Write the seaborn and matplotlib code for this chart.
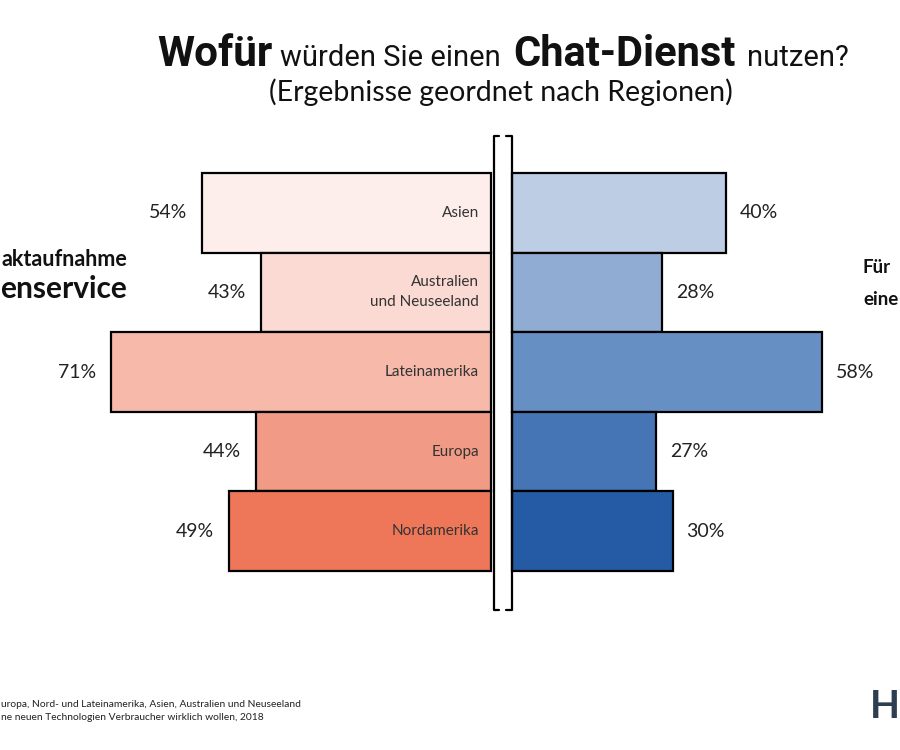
import pandas as pd
import matplotlib.pyplot as plt
from matplotlib.lines import Line2D
import seaborn as sns

# =========================
# Daten
# =========================
regionen = ["Asien", "Australien\nund Neuseeland", "Lateinamerika", "Europa", "Nordamerika"]
kontakt = [54, 43, 71, 44, 49]      # Kontaktaufnahme mit dem Kundenservice
kauf = [40, 28, 58, 27, 30]         # rechte Seite
farben_links = ["#fdeeeb", "#fadad3", "#f6b9aa", "#f19a85", "#ee775a"]
farben_rechts = ["#bccde4", "#91acd3", "#668fc4", "#4575b5", "#255ba4"]

df = pd.DataFrame({"region": regionen, "kontakt": kontakt, "kauf": kauf})

sns.set_theme(style="white")
plt.rcParams["font.family"] = ["Lato", "DejaVu Sans"]

W, H = 900, 750
fig = plt.figure(figsize=(9, 7.5), dpi=100)

px = 5.35  # Pixel pro Prozentpunkt
y0, y1 = 173, 571
bottom = 1 - y1 / H
height = (y1 - y0) / H

ax_l = fig.add_axes([0, bottom, 491 / W, height])
ax_r = fig.add_axes([512 / W, bottom, (W - 512) / W, height])

sns.barplot(data=df, y="region", x="kontakt", hue="region", palette=farben_links, saturation=1,
            width=1, edgecolor="black", linewidth=1.6, legend=False, orient="h", ax=ax_l)
sns.barplot(data=df, y="region", x="kauf", hue="region", palette=farben_rechts, saturation=1,
            width=1, edgecolor="black", linewidth=1.6, legend=False, orient="h", ax=ax_r)

ax_l.set_xlim(491 / px, 0)
ax_r.set_xlim(0, (W - 512) / px)
for ax in (ax_l, ax_r):
    ax.set_ylim(4.5, -0.5)
    ax.axis("off")
    for p in ax.patches:
        p.set_clip_on(False)

for i, (r, v) in enumerate(zip(regionen, kontakt)):
    ax_l.text(v + 15 / px, i, f"{v}%", ha="right", va="center", fontsize=14, color="#222222")
    ax_l.text(12 / px, i, r, ha="right", va="center", fontsize=11, color="#333333",
              multialignment="right", linespacing=1.55)
for i, v in enumerate(kauf):
    ax_r.text(v + 14 / px, i, f"{v}%", ha="left", va="center", fontsize=14, color="#222222")

# Klammer in der Mitte
def fx(x):
    return x / W

def fy(y):
    return 1 - y / H

for pts in ([(499, 136), (493.5, 136), (493.5, 610), (499, 610)],
            [(506, 136), (511.5, 136), (511.5, 610), (506, 610)]):
    xs = [fx(p[0]) for p in pts]
    ys = [fy(p[1]) for p in pts]
    fig.add_artist(Line2D(xs, ys, color="black", linewidth=1.6, transform=fig.transFigure))

# Titel
tit_font = ["Roboto", "DejaVu Sans"]
tit_y = fy(66)
fig.text(fx(157), tit_y, "Wofür", fontsize=30.5, fontweight="bold", family=tit_font,
         va="baseline", color="#111111")
fig.text(fx(280), tit_y, "würden Sie einen", fontsize=21, family=tit_font,
         va="baseline", color="#111111")
fig.text(fx(513), tit_y, "Chat-Dienst", fontsize=30, fontweight="bold", family=tit_font,
         va="baseline", color="#111111")
fig.text(fx(747), tit_y, "nutzen?", fontsize=21, family=tit_font,
         va="baseline", color="#111111")
fig.text(fx(501), fy(101), "(Ergebnisse geordnet nach Regionen)", fontsize=20.5, ha="center",
         va="baseline", color="#111111")

# Seitenbeschriftungen (im Original am Bildrand abgeschnitten)
fig.text(fx(127), fy(266), "aktaufnahme", fontsize=15.5, fontweight="bold", ha="right",
         va="baseline", color="#111111")
fig.text(fx(127), fy(298), "enservice", fontsize=21.5, fontweight="bold", ha="right",
         va="baseline", color="#111111")
fig.text(fx(863), fy(273), "Für", fontsize=13.5, fontweight="bold", ha="left",
         va="baseline", color="#111111")
fig.text(fx(863), fy(305), "eine", fontsize=13.5, fontweight="bold", ha="left",
         va="baseline", color="#111111")

# Fußnote und Logo
fig.text(fx(1), fy(707), "uropa, Nord- und Lateinamerika, Asien, Australien und Neuseeland",
         fontsize=7.4, ha="left", va="baseline", color="#222222")
fig.text(fx(1), fy(720), "ne neuen Technologien Verbraucher wirklich wollen, 2018",
         fontsize=7.4, ha="left", va="baseline", color="#222222")
fig.text(fx(870), fy(718), "H", fontsize=28, fontweight="bold", ha="left",
         va="baseline", color="#2d3e50")

fig.savefig("out.png", dpi=100)
plt.close(fig)
